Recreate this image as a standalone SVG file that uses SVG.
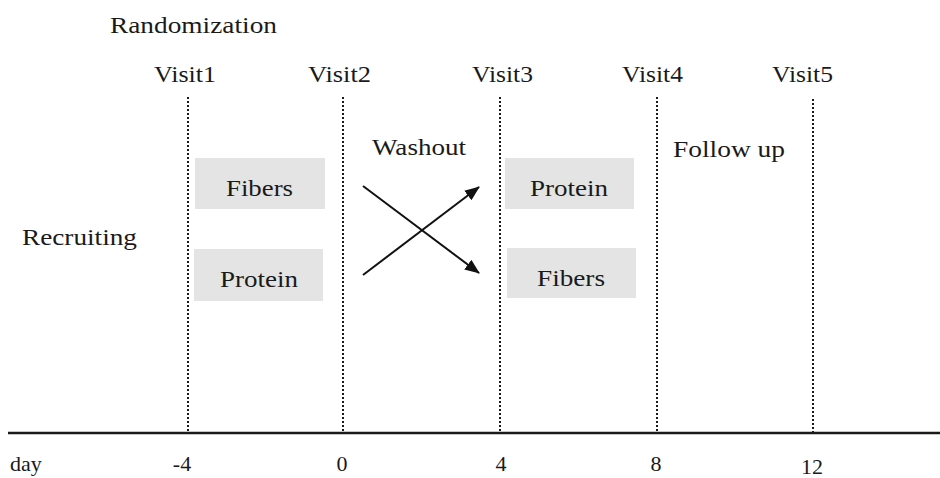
<svg xmlns="http://www.w3.org/2000/svg" width="940" height="478" viewBox="0 0 940 478" font-family="Liberation Serif, Times New Roman, DejaVu Serif, serif">
  <style>
    text { font-family: "Liberation Serif", "Times New Roman", "DejaVu Serif", serif; fill: #1a1a1a; }
    .t { font-size: 24px; }
    .ax { font-size: 22px; }
    .box { fill: #e4e4e4; }
    .visit { stroke: #1a1a1a; stroke-width: 2; stroke-dasharray: 2 2; fill: none; }
    .arrow { stroke: #111; stroke-width: 2; fill: none; marker-end: url(#head); }
  </style>
  <defs>
    <marker id="head" viewBox="0 0 15 12" refX="14" refY="6" markerWidth="15" markerHeight="12" markerUnits="userSpaceOnUse" orient="auto">
      <path d="M0,0 L15,6 L0,12 Z" fill="#111"/>
    </marker>
  </defs>
  <rect width="940" height="478" fill="#fff"/>

  <!-- heading -->
  <text class="t" font-family="Liberation Serif, serif" x="110" y="33" textLength="167" lengthAdjust="spacingAndGlyphs">Randomization</text>

  <!-- visit markers -->
  <g id="visit1"><text class="t" x="154" y="82" textLength="62" lengthAdjust="spacingAndGlyphs">Visit1</text><line class="visit" x1="188" y1="97" x2="188" y2="433"/></g>
  <g id="visit2"><text class="t" x="308" y="82" textLength="63" lengthAdjust="spacingAndGlyphs">Visit2</text><line class="visit" x1="343" y1="97" x2="343" y2="433"/></g>
  <g id="visit3"><text class="t" x="472" y="82" textLength="61" lengthAdjust="spacingAndGlyphs">Visit3</text><line class="visit" x1="500" y1="97" x2="500" y2="433"/></g>
  <g id="visit4"><text class="t" x="622" y="82" textLength="61" lengthAdjust="spacingAndGlyphs">Visit4</text><line class="visit" x1="657" y1="97" x2="657" y2="433"/></g>
  <g id="visit5"><text class="t" x="772" y="82" textLength="61" lengthAdjust="spacingAndGlyphs">Visit5</text><line class="visit" x1="813" y1="99" x2="813" y2="433"/></g>

  <!-- phase labels -->
  <g id="recruiting"><text class="t" x="22" y="245" textLength="115" lengthAdjust="spacingAndGlyphs">Recruiting</text></g>
  <g id="washout"><text class="t" x="372" y="155" textLength="94" lengthAdjust="spacingAndGlyphs">Washout</text></g>
  <g id="followup"><text class="t" x="673" y="157" textLength="112" lengthAdjust="spacingAndGlyphs">Follow up</text></g>

  <!-- treatment periods -->
  <g id="period1-fibers"><rect class="box" x="195" y="158" width="130" height="51"/><text class="t" x="259.5" y="196" text-anchor="middle" textLength="67" lengthAdjust="spacingAndGlyphs">Fibers</text></g>
  <g id="period1-protein"><rect class="box" x="194" y="249" width="129" height="52"/><text class="t" x="259" y="287" text-anchor="middle" textLength="78" lengthAdjust="spacingAndGlyphs">Protein</text></g>
  <g id="period2-protein"><rect class="box" x="505" y="158" width="129" height="51"/><text class="t" x="569" y="196" text-anchor="middle" textLength="78" lengthAdjust="spacingAndGlyphs">Protein</text></g>
  <g id="period2-fibers"><rect class="box" x="507" y="248" width="129" height="50"/><text class="t" x="571" y="286" text-anchor="middle" textLength="68" lengthAdjust="spacingAndGlyphs">Fibers</text></g>

  <!-- crossover connectors -->
  <g id="connectors">
    <line class="arrow" x1="363" y1="186" x2="479" y2="273"/>
    <line class="arrow" x1="363" y1="275" x2="479" y2="187"/>
  </g>

  <!-- time axis -->
  <g id="axis">
    <line x1="8" y1="433" x2="940" y2="433" stroke="#1a1a1a" stroke-width="2.5"/>
    <text class="ax" x="10" y="471">day</text>
    <text class="ax" x="182" y="471" text-anchor="middle">-4</text>
    <text class="ax" x="342" y="471" text-anchor="middle">0</text>
    <text class="ax" x="501" y="471" text-anchor="middle">4</text>
    <text class="ax" x="656" y="471" text-anchor="middle">8</text>
    <text class="ax" x="812" y="474" text-anchor="middle">12</text>
  </g>
</svg>
